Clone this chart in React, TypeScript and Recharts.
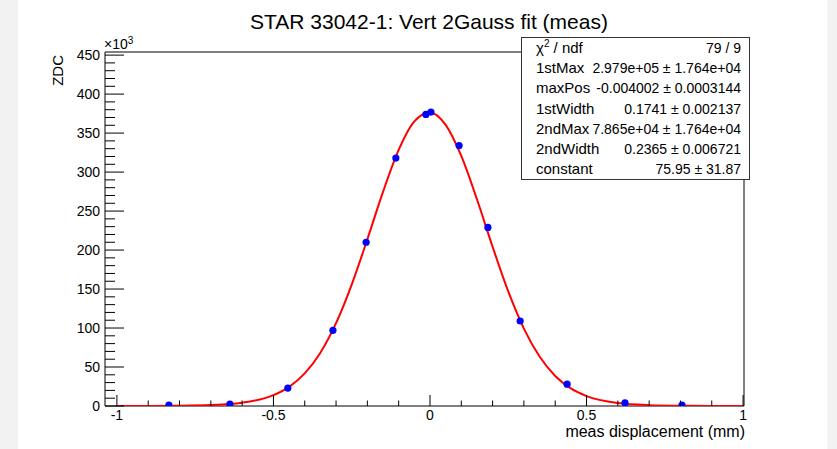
import React from 'react';
import { ComposedChart, Line, Scatter, XAxis, YAxis, ReferenceArea } from 'recharts';

// measured points (meas displacement in mm, ZDC counts)
const measX = [-0.834, -0.639, -0.454, -0.31, -0.204, -0.109, -0.013, 0.003, 0.093, 0.185, 0.288, 0.438, 0.623, 0.805];
const measY = [1300, 2500, 23000, 97000, 210000, 318000, 374000, 377000, 334000, 229000, 109000, 28000, 4000, 1300];

// fitted 2-Gauss curve
const fitX = [-1, -0.9, -0.8, -0.7, -0.6, -0.5, -0.45, -0.4, -0.35, -0.3, -0.25, -0.2, -0.15, -0.1, -0.05, 0, 0.05, 0.1, 0.15, 0.2, 0.25, 0.3, 0.35, 0.4, 0.45, 0.5, 0.6, 0.7, 0.8, 0.9, 1];
const fitY = [90, 140, 360, 1200, 4200, 13900, 24600, 41800, 68400, 106200, 155700, 213900, 274600, 328400, 365000, 376500, 360600, 320700, 265100, 204200, 147000, 99300, 63400, 38500, 22500, 12700, 3800, 1100, 330, 130, 90];

const xTicks = [-1, -0.9, -0.8, -0.7, -0.6, -0.5, -0.4, -0.3, -0.2, -0.1, 0, 0.1, 0.2, 0.3, 0.4, 0.5, 0.6, 0.7, 0.8, 0.9, 1];
const xMajor = [-1, -0.5, 0, 0.5, 1];
const yTicks = [0, 10000, 20000, 30000, 40000, 50000, 60000, 70000, 80000, 90000, 100000, 110000, 120000, 130000, 140000, 150000, 160000, 170000, 180000, 190000, 200000, 210000, 220000, 230000, 240000, 250000, 260000, 270000, 280000, 290000, 300000, 310000, 320000, 330000, 340000, 350000, 360000, 370000, 380000, 390000, 400000, 410000, 420000, 430000, 440000, 450000];
const yMajor = [0, 50000, 100000, 150000, 200000, 250000, 300000, 350000, 400000, 450000];

const statsLabels = ['1stMax', 'maxPos', '1stWidth', '2ndMax', '2ndWidth', 'constant'];
const statsValues = ['2.979e+05 \u00b1 1.764e+04', '-0.004002 \u00b1 0.0003144', '0.1741 \u00b1 0.002137', '7.865e+04 \u00b1 1.764e+04', '0.2365 \u00b1 0.006721', '75.95 \u00b1 31.87'];
const chiValue = '79 / 9';

const X_DOMAIN: [number, number] = [-1.038, 1.003];
const Y_DOMAIN: [number, number] = [0, 454000];

const FONT = '"Liberation Sans", Arial, Helvetica, sans-serif';

const points = measX.map((x, i) => ({ x, y: measY[i] }));
const curve = fitX.map((x, i) => ({ x, y: fitY[i] }));

const isMajor = (v: number, list: number[]) => list.some((m) => Math.abs(m - v) < 1e-9);

const XTick = (props: any) => {
  const { x, y, payload } = props;
  const v = payload.value;
  const major = isMajor(v, xMajor);
  return (
    <g>
      <line x1={x} x2={x} y1={y} y2={y - (major ? 11 : 5.5)} stroke="#000" strokeWidth={1} />
      {major && (
        <text x={x} y={y + 14} textAnchor="middle" fontSize={14} fontFamily={FONT} fill="#000">
          {String(v)}
        </text>
      )}
    </g>
  );
};

const YTick = (props: any) => {
  const { x, y, payload } = props;
  const v = payload.value;
  const major = isMajor(v, yMajor);
  return (
    <g>
      <line x1={x} x2={x + (major ? 19 : 10)} y1={y} y2={y} stroke="#000" strokeWidth={1} />
      {major && (
        <text x={x - 5} y={y + 5} textAnchor="end" fontSize={14} fontFamily={FONT} fill="#000">
          {String(v / 1000)}
        </text>
      )}
    </g>
  );
};

const Dot = (p: any) => <circle cx={p.cx} cy={p.cy} r={3.6} fill="#0000ff" />;

export default function App() {
  const rowH = 20.3;
  const boxTop = 37;
  return (
    <div style={{ position: 'absolute', left: 0, top: 0, width: 837, height: 449, background: '#f2f2f2', fontFamily: FONT }}>
      <div style={{ position: 'absolute', left: 18, top: 0, width: 809, height: 449, background: '#ffffff' }} />
      <div style={{ position: 'absolute', left: 0, top: 0 }}>
        <ComposedChart width={837} height={449} margin={{ top: 52, right: 93, bottom: 0, left: 0 }}>
          <XAxis
            dataKey="x"
            type="number"
            domain={X_DOMAIN}
            allowDataOverflow
            ticks={xTicks}
            interval={0}
            height={43}
            tickSize={0}
            tickMargin={0}
            tickLine={false}
            axisLine={false}
            tick={<XTick />}
          />
          <YAxis
            dataKey="y"
            type="number"
            domain={Y_DOMAIN}
            allowDataOverflow
            ticks={yTicks}
            interval={0}
            width={105}
            tickSize={0}
            tickMargin={0}
            tickLine={false}
            axisLine={false}
            tick={<YTick />}
          />
          <ReferenceArea x1={X_DOMAIN[0]} x2={X_DOMAIN[1]} y1={Y_DOMAIN[0]} y2={Y_DOMAIN[1]} fill="none" fillOpacity={0} stroke="#000" strokeWidth={1} ifOverflow="visible" />
          <Scatter data={points} dataKey="y" shape={Dot} isAnimationActive={false} />
          <Line data={curve} dataKey="y" type="monotone" stroke="#ff0000" strokeWidth={2} dot={false} activeDot={false} isAnimationActive={false} />
        </ComposedChart>
      </div>
      <svg width={837} height={449} style={{ position: 'absolute', left: 0, top: 0, pointerEvents: 'none' }}>
        <text x={429} y={29} textAnchor="middle" fontSize={21} fontFamily={FONT} fill="#000">
          STAR 33042-1: Vert 2Gauss fit (meas)
        </text>
        <text x={104} y={49} fontSize={14} fontFamily={FONT} fill="#000">
          {'\u00d710'}
          <tspan dy={-5} fontSize={10}>3</tspan>
        </text>
        <text transform="translate(63,55) rotate(-90)" textAnchor="end" fontSize={15} fontFamily={FONT} fill="#000">
          ZDC
        </text>
        <text x={745} y={437} textAnchor="end" fontSize={16} fontFamily={FONT} fill="#000">
          meas displacement (mm)
        </text>
        <rect x={521.5} y={37.5} width={228} height={142} fill="#ffffff" stroke="#333" strokeWidth={1} />
        <text x={536} y={boxTop + rowH * 0.5 + 5.5} fontSize={15} fontFamily={FONT} fill="#000">
          {'\u03c7'}
          <tspan dy={-6} fontSize={10}>2</tspan>
          <tspan dy={6}>{' / ndf'}</tspan>
        </text>
        <text x={741} y={boxTop + rowH * 0.5 + 5.5} textAnchor="end" fontSize={14} fontFamily={FONT} fill="#000">
          {chiValue}
        </text>
        {statsLabels.map((lab, i) => (
          <g key={lab}>
            <text x={536} y={boxTop + rowH * (i + 1.5) + 5.5} fontSize={15} fontFamily={FONT} fill="#000">
              {lab}
            </text>
            <text x={741} y={boxTop + rowH * (i + 1.5) + 5.5} textAnchor="end" fontSize={14} fontFamily={FONT} fill="#000">
              {statsValues[i]}
            </text>
          </g>
        ))}
      </svg>
    </div>
  );
}
